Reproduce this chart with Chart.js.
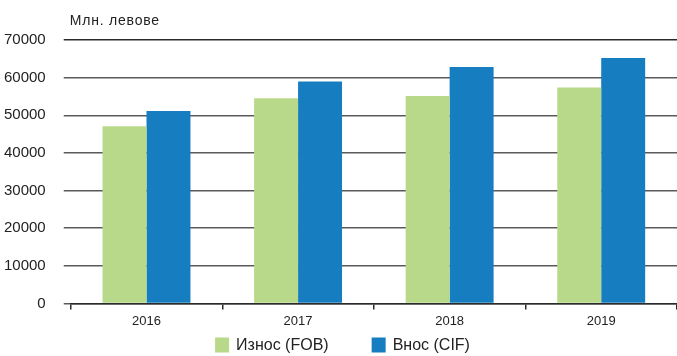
<!DOCTYPE html>
<html>
<head>
<meta charset="utf-8">
<script src="https://cdn.jsdelivr.net/npm/chart.js@4.4.1/dist/chart.umd.min.js"></script>
<style>
    html, body { margin: 0; padding: 0; background: #ffffff; }
    #wrap { width: 677px; height: 356px; }
</style>
</head>
<body>
<div id="wrap"><canvas id="tradeChart" width="677" height="356"></canvas></div>
<script>
// Data (млн. левове)
const years = ['2016', '2017', '2018', '2019'];
const exportFob = [47100, 54500, 55100, 57400];
const importCif = [51100, 59000, 62800, 65200];
const unitLabel = 'Млн. левове';

const greenColor = '#b8d98a';
const blueColor = '#167dc1';
const fontFamily = '"Liberation Sans", Arial, sans-serif';

// Draws the unit label above the y axis
const unitLabelPlugin = {
    id: 'unitLabel',
    afterDraw(chart) {
        const ctx = chart.ctx;
        ctx.save();
        ctx.font = '14px ' + fontFamily;
        ctx.fillStyle = '#222';
        ctx.textBaseline = 'alphabetic';
        ctx.textAlign = 'left';
        if ('letterSpacing' in ctx) ctx.letterSpacing = '0.8px';
        ctx.fillText(unitLabel, chart.chartArea.left - 1, 25);
        ctx.restore();
    }
};

// Legend at the bottom, with wider gaps than the built-in one allows
const bottomLegendPlugin = {
    id: 'bottomLegend',
    afterDraw(chart) {
        const ctx = chart.ctx;
        const box = 15;
        const gap = 6;
        const spacing = 43;
        ctx.save();
        ctx.font = '16px ' + fontFamily;
        ctx.textBaseline = 'middle';
        ctx.textAlign = 'left';
        const items = chart.data.datasets.map(ds => ({
            text: ds.label,
            color: ds.backgroundColor,
            width: box + gap + ctx.measureText(ds.label).width
        }));
        const total = items.reduce((s, it) => s + it.width, 0) + spacing * (items.length - 1);
        let x = (chart.width - total) / 2 + 4;
        const y = chart.height - 11;
        items.forEach(it => {
            ctx.fillStyle = it.color;
            ctx.fillRect(x, y - box / 2, box - 1, box);
            ctx.fillStyle = '#222';
            ctx.fillText(it.text, x + box + gap, y + 1);
            x += it.width + spacing;
        });
        ctx.restore();
    }
};

const ctx = document.getElementById('tradeChart').getContext('2d');
const tradeChart = new Chart(ctx, {
    type: 'bar',
    data: {
        labels: years,
        datasets: [
            {
                label: 'Износ (FOB)',
                data: exportFob,
                backgroundColor: greenColor,
                borderWidth: 0
            },
            {
                label: 'Внос (CIF)',
                data: importCif,
                backgroundColor: blueColor,
                borderWidth: 0
            }
        ]
    },
    options: {
        responsive: false,
        animation: false,
        devicePixelRatio: 1,
        layout: {
            padding: { top: 40, right: 0, bottom: 23, left: -14 }
        },
        datasets: {
            bar: {
                categoryPercentage: 0.58,
                barPercentage: 1.0
            }
        },
        plugins: {
            legend: { display: false },
            tooltip: { enabled: false }
        },
        scales: {
            x: {
                border: { display: true, color: '#2b2b2b', width: 1.5 },
                grid: {
                    offset: true,
                    drawOnChartArea: false,
                    drawTicks: true,
                    tickLength: 6,
                    color: '#2b2b2b',
                    lineWidth: 1.5
                },
                ticks: {
                    color: '#222',
                    padding: 4,
                    font: { family: fontFamily, size: 13 }
                }
            },
            y: {
                min: 0,
                max: 70000,
                border: { display: false },
                grid: {
                    drawTicks: true,
                    tickLength: 7,
                    lineWidth: 1.5,
                    color: (c) => (c.tick && c.tick.value === 70000) ? '#2b2b2b' : '#5a5a5a'
                },
                ticks: {
                    stepSize: 10000,
                    color: '#222',
                    padding: 18,
                    font: { family: fontFamily, size: 15 },
                    callback: (v) => String(v)
                }
            }
        }
    },
    plugins: [unitLabelPlugin, bottomLegendPlugin]
});
</script>
</body>
</html>
